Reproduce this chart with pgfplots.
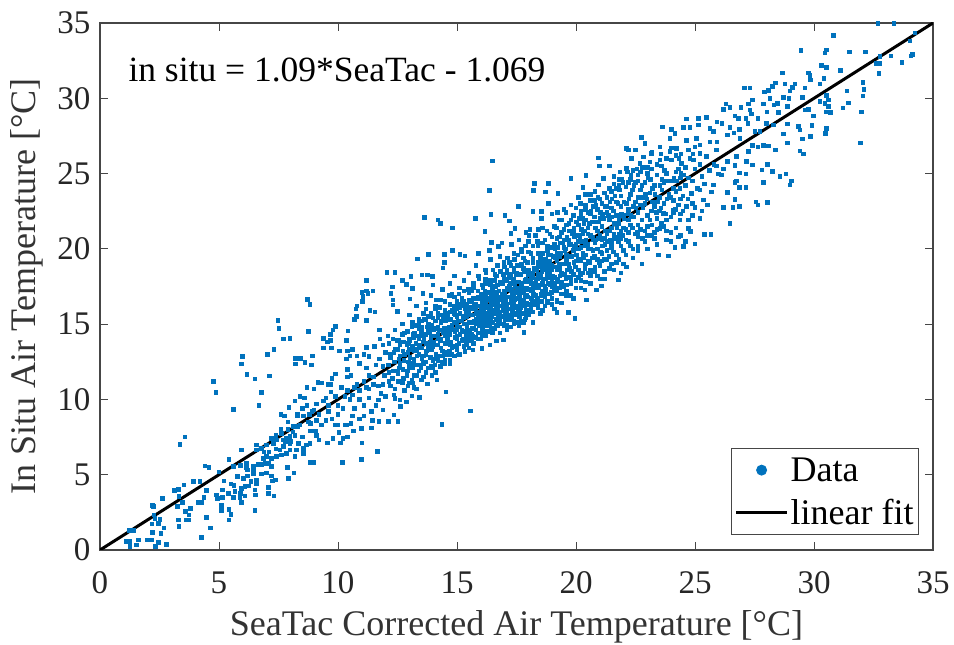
\documentclass[border=0pt]{standalone}
\usepackage{pgfplots}
\pgfplotsset{compat=1.18}
\usepackage{fontspec}
\setmainfont{Liberation Serif}
\definecolor{mblue}{RGB}{0,114,189}
\definecolor{axgray}{RGB}{70,70,70}
\begin{document}
\begin{tikzpicture}[x=1pt,y=1pt]
\path[use as bounding box] (-100pt,-95pt) rectangle (854pt,550pt);
\begin{axis}[
  at={(0pt,0pt)},anchor=south west,
  scale only axis,width=833pt,height=527pt,
  xmin=0,xmax=35,ymin=0,ymax=35,
  xtick={0,5,...,35},ytick={0,5,...,35},
  tick align=inside,major tick length=8pt,
  axis line style={axgray,line width=1.3pt},
  tick style={axgray,line width=0.9pt},
  ticklabel style={font=\fontsize{33}{33}\selectfont,text=black!85},
  /pgf/number format/assume math mode=true,
  xticklabel style={yshift=-18pt},
  yticklabel style={xshift=-6pt},
  xlabel={SeaTac Corrected Air Temperature [°C]},
  ylabel={In Situ Air Temperature [°C]},
  label style={font=\fontsize{36}{36}\selectfont,text=black!80},
  ylabel style={at={(axis description cs:-0.0876,0.5)},anchor=center},
  xlabel style={at={(axis description cs:0.5,-0.146)},anchor=center},
  legend style={at={(rel axis cs:0.9832,0.0285)},anchor=south east,draw=axgray,line width=0.9pt,
    font=\fontsize{36}{36}\selectfont,inner xsep=3pt,inner ysep=7pt,row sep=12pt},
  legend cell align=left,
]
\addplot[only marks,mark=square*,mark size=1.75pt,color=mblue,mark options={draw=mblue,fill=mblue,line width=0pt},
 forget plot] coordinates {
(1.09,0.55)(1.26,0.55)(1.61,0.66)(1.54,0.33)(1.26,0.22)(1.99,0.66)(2.17,0.66)(2.45,0.49)(2.34,0.22)(2.79,0.38)
(1.40,1.28)(1.23,1.28)(2.20,1.17)(2.56,1.11)(2.68,1.46)(2.18,1.73)(2.31,2.10)(2.52,2.04)(2.45,1.77)(2.24,2.88)(2.27,2.32)(2.62,3.41)(2.21,2.97)
(3.14,3.94)(3.29,4.03)(3.53,4.32)(3.32,3.54)(3.46,3.14)(3.25,2.88)(3.59,2.55)(3.75,2.32)(3.81,2.77)(3.29,1.99)(3.61,1.99)(3.75,1.99)(3.31,1.55)
(4.48,2.17)(4.65,1.46)(4.26,0.84)(3.92,4.56)(4.20,4.56)(4.48,3.94)(4.37,3.50)(4.13,3.17)(4.27,3.17)
(5.11,2.94)(5.11,2.61)(5.43,2.70)(5.50,2.35)(5.43,1.99)(4.90,3.65)(4.93,3.43)(5.15,3.98)(5.15,3.50)(5.22,4.58)(5.50,4.38)(5.63,4.29)(5.39,3.76)(5.67,3.87)(5.60,3.50)
(5.91,3.76)(5.88,3.50)(5.95,3.14)(5.95,4.09)(6.09,4.21)(6.27,4.25)(6.02,4.76)(6.19,4.91)(5.78,4.87)(6.34,4.54)(6.44,5.09)(6.58,4.65)(6.58,4.38)(6.51,3.98)(6.54,3.65)(6.51,2.61)
(7.07,4.16)(7.07,3.76)(7.31,3.59)(7.25,4.58)(7.38,4.65)(6.79,5.05)(7.00,5.13)(7.21,5.53)(6.16,5.75)(6.44,5.53)(6.65,5.69)(6.79,5.69)(6.93,5.75)(7.07,5.75)(6.44,5.31)(6.16,5.49)
(4.41,5.58)(4.58,5.47)(5.00,5.18)(5.43,6.02)(5.95,6.64)(5.60,5.53)(6.58,6.97)(6.58,6.64)(6.79,6.75)(7.00,6.97)(7.21,7.41)(7.28,7.08)(7.42,7.30)(7.63,7.75)(7.68,7.30)(7.84,7.41)(7.98,7.53)(7.98,7.08)(7.70,6.86)(7.56,6.64)(7.63,6.31)(7.98,6.64)(7.84,6.42)(7.42,6.20)(7.21,6.09)(7.00,6.20)(6.86,6.09)
(8.33,7.08)(8.26,6.64)(8.54,6.75)(8.19,6.20)(8.54,6.42)(8.82,7.08)(8.68,6.97)(7.87,5.49)(8.15,5.13)(7.93,4.76)(8.82,5.82)(8.99,5.82)(10.18,5.82)(10.98,6.02)(11.65,6.55)
(3.36,7.00)(3.57,7.51)(5.60,9.34)(4.76,11.2)(4.87,10.47)(5.95,12.35)(5.99,12.84)(6.18,11.64)(6.51,11.37)(6.79,10.47)(6.68,9.59)(7.13,11.55)(7.03,12.97)(7.31,13.32)(7.48,15.23)(7.53,14.7)(7.70,14.0)(7.98,14.05)
(8.71,16.65)(8.82,16.29)(8.77,14.52)(8.21,12.71)(8.43,12.71)(8.21,12.35)(8.61,12.44)(8.88,12.27)(8.93,12.9)(9.17,11.11)(9.40,13.41)(9.40,14.03)(9.56,13.8)(9.68,13.9)(9.68,14.3)(9.79,14.6)(9.90,14.83)(9.73,13.41)(10.35,13.9)(10.07,13.2)(10.35,12.7)
(10.41,14.56)(10.76,16.02)(11.03,16.5)(11.48,17.2)(11.2,17.9)(11.0,17.1)(10.8,16.2)(11.2,17.2)(11.05,16.7)(10.77,15.5)(11.34,15.9)(11.2,15.25)(10.7,15.3)(11.55,15.8)(11.75,14.6)(11.76,14.0)(10.4,13.2)(10.6,13.3)(11.2,13.45)(11.54,13.5)(11.9,13.6)(10.5,12.9)(10.8,12.9)(11.1,13.0)(11.3,12.85)(11.75,12.7)(12.0,13.1)
(10.55,11.6)(10.4,11.5)(9.7,11.0)(9.6,11.0)(9.3,11.1)(8.7,10.8)(9.0,10.7)(8.2,9.9)(7.95,9.45)(9.75,11.4)(8.4,10.2)(8.6,10.1)(7.6,9.0)(7.75,8.9)(8.3,9.0)(9.5,10.1)(9.9,10.2)(10.3,10.2)(10.6,10.3)(10.9,10.0)(11.3,10.1)(11.7,9.95)(12.0,10.2)(12.2,10.9)(11.9,11.0)(11.5,11.0)(11.2,10.8)(10.8,11.0)(10.4,10.6)(10.15,10.8)(9.7,10.5)(8.3,8.9)(8.75,8.5)(8.85,8.4)(8.4,8.3)(8.55,8.9)(9.1,8.6)(9.3,8.3)(9.5,8.6)(9.75,8.7)(9.9,8.3)(10.0,9.0)(10.3,8.3)(10.55,8.4)(10.65,7.9)(9.8,7.4)(10.05,7.8)(10.2,7.4)(10.4,7.5)(11.0,7.1)(11.9,9.3)(9.0,9.3)(9.1,9.7)(8.9,9.2)(8.7,9.6)(8.5,9.4)(9.4,9.9)(9.6,9.2)(10.7,9.4)(11.1,9.6)(11.4,9.2)(8.1,8.2)(7.9,8.0)(8.1,7.85)(7.6,8.0)(8.2,7.6)(8.85,7.9)(9.1,7.6)(9.2,7.3)(9.55,7.1)(9.05,7.9)
(13.64,22.09)(14.2,21.9)(14.3,21.67)(14.82,21.4)(16.18,21.14)(13.35,19.34)(13.81,19.61)(14.48,19.61)(14.48,19.08)(14.42,18.73)(14.82,19.88)(15.12,19.61)(15.34,19.52)(15.9,19.7)(16.36,19.88)(16.74,20.14)(16.46,20.41)(17.27,21.03)(17.44,21.36)(18.07,21.29)(18.56,22.02)
(12.06,18.44)(12.39,18.44)(13.07,18.17)(13.53,18.26)(13.75,18.26)(13.98,18.17)(12.7,17.91)(12.88,17.64)(12.28,17.46)(12.23,17.04)(11.27,17.02)(11.04,16.84)(13.12,17.38)(13.02,16.67)(13.58,17.02)(12.32,16.6)(12.32,16.27)(12.49,15.85)
(16.5,25.85)(16.36,23.88)(16.43,22.29)(15.78,22.02)(17.02,22.2)(17.2,21.85)(17.59,22.8)(18.2,22.47)(18.56,22.47)(18.26,24.35)(18.84,24.35)(18.21,23.88)(18.72,23.79)(18.84,23.02)(19.24,23.68)(19.8,24.68)(20.3,24.08)(20.42,24.88)(20.94,26.03)(20.98,25.5)(21.4,25.5)(21.15,24.68)(21.6,24.8)(20.94,24.24)(21.85,25.12)(22.13,25.34)(22.2,26.56)
(14.37,8.34)(15.56,9.23)(14.54,10.49)(13.94,11.58)(14.15,11.29)(13.75,11.02)(13.42,10.14)(13.1,10.23)(12.6,9.96)(12.63,9.52)(12.88,9.83)(12.39,10.07)(12.53,8.52)(12.12,8.52)(11.72,8.52)(11.45,8.59)(10.99,8.08)(10.36,8.3)(10.01,8.3)(12.35,8.96)
(19.96,15.38)(19.2,15.76)(19.68,15.76)(17.81,14.43)(16.95,13.94)(16.67,13.88)(16.39,13.61)(16.04,13.39)(15.68,13.28)(15.34,13.17)(15.06,12.95)(14.7,12.62)(14.5,12.4)(20.45,16.6)(20.38,17.26)(20.87,17.26)(21.08,17.53)(21.78,17.93)(22.13,18.81)
(32.68,34.97)(33.36,34.97)(30.81,34.17)(29.45,33.18)(30.53,33.2)(30.46,33.0)(31.5,33.09)(32.17,33.09)(34.25,34.35)(34.03,33.82)(32.77,32.76)(33.24,32.82)(34.14,32.91)(34.07,32.82)(33.7,32.38)(32.63,32.32)(32.77,32.32)(32.74,31.65)(30.32,32.18)(30.53,32.03)(31.11,31.85)(28.67,31.67)(29.76,31.67)(29.83,31.5)(29.86,31.2)(30.42,31.32)(30.25,30.94)(32.06,31.05)(32.11,30.59)(32.06,30.15)(31.38,30.5)(31.44,29.7)(31.22,29.35)(32.0,29.08)(31.95,27.03)
(30.53,30.17)(30.6,29.88)(30.25,29.77)(30.46,29.66)(30.6,29.44)(30.53,29.1)(30.7,29.06)(29.97,28.82)(29.76,29.26)(29.62,29.22)(29.91,28.18)(30.53,28.0)(30.48,27.67)(29.86,27.45)(29.52,27.29)(29.34,28.11)(29.41,27.89)(28.89,27.03)(28.72,27.62)(28.89,28.29)(29.41,26.49)(29.56,26.3)(28.39,26.56)(28.08,26.83)(27.87,26.85)(27.65,26.76)(27.42,26.85)
(27.09,30.68)(27.31,30.68)(27.93,30.43)(28.08,30.52)(28.26,30.79)(28.39,31.03)(28.78,30.94)(29.2,30.94)(29.1,30.72)(28.99,30.5)(29.62,30.68)(29.51,30.06)(28.71,30.06)(28.95,29.97)(28.15,29.97)(27.87,29.61)(28.32,29.55)(28.46,29.66)(28.89,29.44)(28.5,29.04)(28.03,29.1)(27.42,29.88)(27.25,29.61)(26.93,29.39)(26.3,29.61)(26.47,29.39)(26.19,29.26)(27.31,29.22)(27.38,28.95)(27.14,28.66)(27.65,28.66)(26.68,28.82)(26.82,28.66)(25.92,28.44)(26.13,28.33)(27.22,28.33)(28.01,28.33)(28.29,28.22)(26.47,28.07)(26.86,27.93)(27.52,27.78)(27.73,27.78)
(25.49,28.73)(25.14,28.66)(25.14,28.22)(24.65,28.62)(24.51,28.07)(24.79,28.07)(23.64,28.09)(24.02,27.93)(24.16,27.67)(23.95,27.33)(24.65,27.18)(25.07,27.33)(25.63,28.0)(25.77,27.78)(26.36,27.55)(26.64,27.71)(26.89,27.33)(25.92,27.11)(25.63,27.11)(25.21,26.89)(25.0,26.78)(22.75,27.38)(22.9,27.0)(22.5,26.56)(22.13,26.67)(23.53,26.78)(23.18,26.34)(23.95,26.45)(24.23,26.67)(24.72,26.56)(25.21,26.34)(25.91,26.56)(22.34,26.0)(22.69,25.67)(23.11,25.78)(23.53,25.9)(24.02,25.9)(24.44,25.67)(24.93,25.9)(25.49,26.12)
(26.75,26.12)(27.24,26.45)(27.17,25.79)(26.36,25.79)(26.68,25.52)(27.42,25.56)(28.04,25.59)(27.82,25.23)(28.26,25.14)(28.57,24.79)(28.82,24.97)(29.06,24.52)(29.0,24.24)(27.87,24.41)(27.14,24.97)(26.86,25.05)(25.98,24.97)(26.12,24.9)(26.75,24.52)(26.68,24.41)(26.86,24.08)(27.14,24.08)(26.36,23.73)(26.68,23.28)(27.56,23.11)(27.65,22.91)(28.04,23.08)(26.86,22.82)(26.6,22.75)(26.19,22.75)(26.47,21.67)(25.52,22.91)(25.0,22.75)(25.22,22.02)(25.39,20.96)(25.67,20.96)(25.0,20.32)(24.61,20.5)(24.51,20.14)(24.16,20.08)(23.88,19.52)(23.46,19.59)(22.78,18.99)(24.3,20.8)(24.0,21.09)(24.72,21.36)(24.82,21.14)(24.72,21.91)(24.37,21.91)(25.77,24.24)(25.7,23.79)(25.35,23.24)(25.21,23.9)(24.86,23.68)(24.65,22.8)(24.09,22.58)(23.67,22.35)(23.53,21.36)
(24.4,24.7)(24.6,24.2)(24.9,24.5)(25.3,24.8)(25.6,25.2)(24.2,25.1)(23.8,25.0)(23.4,24.9)(23.0,25.0)(22.6,24.9)(22.3,24.6)(22.9,24.4)(23.3,24.2)(23.7,24.4)(24.1,24.0)(23.9,23.6)(23.5,23.4)(23.1,23.7)(22.7,23.9)(22.3,23.6)(22.5,23.1)(22.9,23.0)(23.3,22.8)(23.7,23.0)(24.1,23.2)(24.4,23.3)(22.2,22.6)(22.6,22.4)(23.0,22.2)(23.4,22.0)(23.8,21.9)(22.2,21.9)(22.6,21.6)(23.0,21.5)(23.3,21.1)(22.2,21.1)(22.6,20.8)(22.9,20.5)(22.3,20.2)(22.6,19.9)(22.1,19.6)(23.0,20.0)(23.4,20.3)(22.0,19.0)(22.4,19.4)(21.9,18.4)
(21.8,24.2)(21.5,23.8)(21.9,23.5)(21.3,23.4)(21.7,23.1)(21.1,23.0)(21.5,22.7)(21.9,22.8)(20.9,22.6)(21.3,22.4)(21.7,22.2)(22.0,22.2)(20.6,23.6)(20.8,23.2)(20.4,22.9)(20.1,23.4)(19.8,22.9)(20.2,22.5)(20.6,22.3)(21.0,22.0)(21.4,21.9)(21.8,21.7)(19.5,22.6)(19.9,22.2)(20.3,22.0)(20.7,21.8)(21.1,21.5)(21.5,21.4)(21.9,21.2)(19.3,21.9)(19.7,21.7)(20.1,21.6)(20.5,21.4)(20.9,21.2)(21.3,21.0)(21.7,20.8)(22.1,20.6)(19.0,22.3)(19.1,21.5)(19.5,21.3)(19.9,21.1)(20.3,21.0)(20.7,20.8)(21.1,20.6)(21.5,20.4)(21.9,20.2)(18.6,21.4)(18.9,21.0)(19.3,20.8)(19.7,20.6)(20.1,20.5)(20.5,20.3)(20.9,20.0)(21.3,19.9)(21.7,19.6)(21.5,19.0)(21.1,19.2)(20.7,19.4)(20.3,19.7)(19.9,19.9)(19.5,20.1)(19.1,20.3)(18.7,20.6)(18.3,20.9)(17.9,21.1)(18.0,20.5)(18.4,20.2)(18.8,19.9)(19.2,19.7)(19.6,19.4)(20.0,19.2)(20.4,19.0)(20.8,18.8)(21.2,18.5)(20.9,18.2)(20.5,18.4)(20.1,18.6)(19.7,18.8)(19.3,19.0)(18.9,19.2)(18.5,19.4)(18.1,19.7)(17.7,20.0)(17.3,20.3)(17.6,20.6)(16.9,20.4)(17.4,19.7)(17.8,19.4)(18.2,19.1)(18.6,18.8)(19.0,18.6)(19.4,18.4)(19.8,18.1)(20.2,17.9)(20.6,17.7)(20.0,17.4)(19.6,17.6)(19.2,17.8)(18.8,18.1)(18.4,18.3)(18.0,18.6)(17.6,18.9)(17.2,19.1)(16.8,19.5)(16.4,19.3)(16.7,18.9)(17.1,18.6)(17.5,18.3)(17.9,18.0)(18.3,17.7)(18.7,17.5)(19.1,17.2)(19.5,17.0)(19.9,16.7)(19.4,16.4)(19.0,16.7)(18.6,16.9)(18.2,17.1)(17.8,17.4)(17.4,17.7)(17.0,18.0)(16.6,18.3)(16.2,18.6)(15.8,18.9)(15.5,18.4)(15.9,18.2)(16.3,17.9)(16.7,17.6)(17.1,17.3)(17.5,17.1)(17.9,16.8)(18.3,16.5)(18.7,16.2)(19.1,16.0)(18.5,15.7)(18.1,16.0)(17.7,16.3)(17.3,16.6)(16.9,16.9)(16.5,17.2)(16.1,17.4)(15.7,17.7)(15.3,17.9)(14.9,18.2)(14.7,17.7)(15.1,17.4)(15.5,17.1)(15.9,16.8)(16.3,16.6)(16.7,16.3)(17.1,16.0)(17.5,15.7)(17.9,15.4)(18.2,15.1)(17.6,14.9)(17.2,15.3)(16.8,15.6)(16.4,15.9)(16.0,16.2)(15.6,16.5)(15.2,16.7)(14.8,17.0)(14.4,17.3)(14.0,17.6)(13.9,16.9)(14.3,16.6)(14.7,16.3)(15.1,16.1)(15.5,15.8)(15.9,15.5)(16.3,15.2)(16.7,14.9)(17.1,14.6)(16.5,14.4)(16.1,14.8)(15.7,15.1)(15.3,15.4)(14.9,15.7)(14.5,15.9)(14.1,16.2)(13.7,16.4)(13.3,16.2)(13.6,15.7)(14.0,15.4)(14.4,15.2)(14.8,14.9)(15.2,14.6)(15.6,14.3)(16.0,14.0)(15.4,13.8)(15.0,14.2)(14.6,14.5)(14.2,14.8)(13.8,15.0)(13.4,15.3)(13.0,15.6)(12.7,15.0)(13.1,14.8)(13.5,14.5)(13.9,14.2)(14.3,13.9)(14.7,13.6)(15.0,13.3)(14.4,13.2)(14.0,13.5)(13.6,13.8)(13.2,14.1)(12.8,14.4)(12.4,14.6)(12.1,14.2)(12.5,13.9)(12.9,13.6)(13.3,13.3)(13.7,13.0)(14.1,12.7)(13.6,12.4)(13.2,12.7)(12.8,13.0)(12.4,13.3)(12.2,12.8)(12.6,12.4)(13.0,12.2)(13.4,11.9)(12.9,11.6)(12.5,11.9)(12.3,11.4)(12.7,11.1)(13.1,11.3)(12.4,10.7)(12.8,10.6)(13.2,10.8)(13.6,11.5)(14.0,12.1)(14.4,12.5)(14.8,13.0)
(15.0,15.0)(15.4,15.0)(15.8,15.3)(16.2,15.6)(16.6,15.8)(17.0,16.1)(17.4,16.4)(17.8,16.6)(18.2,16.9)(18.6,17.2)(19.0,17.5)(19.4,17.8)(19.8,18.0)(20.2,18.3)(20.6,18.6)(21.0,18.9)(16.1,16.4)(16.5,16.7)(16.9,17.0)(17.3,17.3)(17.7,17.6)(18.1,17.9)(18.5,18.1)(18.9,18.4)(19.3,18.7)(19.7,19.0)(20.1,19.3)(15.2,16.2)(15.6,16.0)(16.0,15.9)(16.4,15.4)(16.8,15.3)(17.2,15.5)(17.6,15.6)(18.0,15.8)(18.4,16.1)(18.8,16.4)(19.2,16.6)(19.6,16.9)(16.2,14.5)(16.6,14.7)(17.0,14.9)(17.4,15.0)(17.8,15.1)(15.8,14.6)(15.4,14.4)(15.0,14.6)(14.6,14.0)(14.2,14.3)(13.8,14.5)(13.4,14.0)(13.0,13.3)(12.6,12.9)(13.4,13.0)(13.8,13.4)(14.2,13.6)(14.6,13.9)(15.0,14.0)(15.4,14.2)(12.6,13.6)(13.0,14.0)(13.4,14.7)(13.8,15.5)(14.2,15.7)(14.6,15.5)(15.0,15.5)(15.4,15.8)(15.8,16.0)(16.2,16.3)(16.6,16.5)(17.0,16.6)(17.4,16.9)(17.8,17.1)(18.2,17.4)(18.6,17.7)(19.0,17.9)(17.0,17.1)(17.2,17.5)(16.6,17.0)(16.2,16.9)(15.8,16.3)(15.4,16.3)(15.0,16.5)(16.0,17.0)(15.6,17.2)(16.4,17.6)(16.8,17.8)(17.2,18.1)(17.6,18.3)(18.0,18.3)(18.4,18.8)(18.8,18.7)(19.2,19.2)(19.6,19.6)(20.0,20.0)(20.4,20.2)(20.8,20.4)(21.2,20.7)(21.6,21.0)(22.0,21.4)(18.2,18.4)(17.8,18.7)(17.4,18.5)(17.0,18.8)(16.6,17.9)(16.2,18.0)
(22.1,24.1)(23.2,26.4)(24.8,26.0)(24.3,25.3)(23.6,25.5)(22.8,25.4)(22.4,25.2)(24.6,25.4)(25.0,25.3)(25.2,25.6)(25.8,25.6)(25.4,24.3)(25.9,25.5)(26.2,25.3)(25.1,24.0)(24.5,23.5)(24.2,23.8)(23.8,24.5)(25.3,22.5)(24.9,23.0)(24.4,22.3)(24.0,22.1)(23.8,20.6)(23.2,20.9)
(12.15,11.2)(12.15,11.8)(12.12,12.3)(12.18,13.0)(12.15,13.7)(12.35,10.3)(12.33,11.9)(12.37,12.5)(12.35,13.1)(12.32,14.0)
(12.55,11.2)(12.53,11.7)(12.58,12.1)(12.56,12.7)(12.52,13.3)(12.55,13.9)(12.75,11.4)(12.73,12.0)(12.77,12.6)(12.74,13.2)(12.76,13.8)(12.72,14.3)
(12.95,10.9)(12.93,11.9)(12.97,12.5)(12.94,13.1)(12.96,13.7)(12.92,14.5)(13.15,11.1)(13.12,12.1)(13.17,12.4)(13.14,13.5)(13.16,14.3)(13.12,15.1)
(13.3,10.7)(13.32,11.6)(13.28,12.3)(13.31,12.9)(13.27,13.7)(13.33,14.2)(13.3,14.9)(13.5,11.3)(13.48,12.1)(13.53,12.7)(13.51,13.4)(13.47,14.2)(13.52,14.8)(13.5,15.2)
(13.7,11.8)(13.68,12.5)(13.72,13.2)(13.71,13.7)(13.67,14.3)(13.73,14.8)(13.7,15.3)(13.69,16.0)(13.9,12.2)(13.88,12.8)(13.92,13.3)(13.91,13.9)(13.87,14.4)(13.93,14.9)(13.9,15.7)
(14.1,11.8)(14.08,12.3)(14.12,13.0)(14.11,13.6)(14.07,14.2)(14.13,14.7)(14.1,15.2)(14.09,16.0)(14.12,16.6)(14.3,12.2)(14.28,12.9)(14.32,13.4)(14.31,14.0)(14.27,14.6)(14.33,15.1)(14.3,15.6)(14.29,16.1)
(14.5,12.6)(14.48,13.1)(14.52,13.7)(14.51,14.2)(14.47,14.7)(14.53,15.2)(14.5,15.7)(14.49,16.5)(14.7,12.4)(14.68,13.2)(14.72,13.8)(14.71,14.3)(14.67,14.8)(14.73,15.3)(14.7,15.8)(14.69,16.9)
(14.9,12.9)(14.88,13.5)(14.92,14.1)(14.91,14.5)(14.87,15.1)(14.93,15.6)(14.9,16.2)(14.89,16.8)(15.1,13.0)(15.08,13.7)(15.12,14.3)(15.11,14.8)(15.07,15.2)(15.13,15.7)(15.1,16.3)(15.09,17.0)
(15.3,13.5)(15.28,14.0)(15.32,14.5)(15.31,15.0)(15.27,15.5)(15.33,16.0)(15.3,16.5)(15.29,17.2)(15.5,13.4)(15.48,14.1)(15.52,14.6)(15.51,15.1)(15.47,15.6)(15.53,16.1)(15.5,16.6)(15.49,17.3)
(15.7,13.7)(15.68,14.2)(15.72,14.7)(15.71,15.2)(15.67,15.6)(15.73,16.2)(15.7,16.7)(15.69,17.4)(15.9,14.0)(15.88,14.4)(15.92,14.9)(15.91,15.3)(15.87,15.8)(15.93,16.2)(15.9,16.7)(15.89,17.2)(15.92,18.0)
(16.05,14.2)(16.07,14.7)(16.03,15.1)(16.06,15.5)(16.04,16.0)(16.08,16.5)(16.02,17.0)(16.05,17.6)(16.2,14.2)(16.22,14.9)(16.18,15.2)(16.21,15.7)(16.19,16.1)(16.23,16.6)(16.17,17.2)(16.2,17.7)(16.22,18.4)
(16.35,14.5)(16.37,14.9)(16.33,15.4)(16.36,15.8)(16.34,16.2)(16.38,16.7)(16.32,17.1)(16.35,17.8)(16.5,14.7)(16.52,15.1)(16.48,15.5)(16.51,15.9)(16.49,16.3)(16.53,16.8)(16.47,17.3)(16.5,17.9)(16.52,18.6)
(16.65,14.9)(16.67,15.3)(16.63,15.7)(16.66,16.1)(16.64,16.5)(16.68,17.1)(16.62,17.5)(16.65,18.2)(16.8,14.4)(16.82,15.0)(16.78,15.4)(16.81,15.8)(16.79,16.2)(16.83,16.6)(16.77,17.2)(16.8,17.7)(16.82,18.5)
(16.95,15.0)(16.97,15.5)(16.93,15.9)(16.96,16.3)(16.94,16.7)(16.98,17.2)(16.92,17.7)(16.95,18.3)(16.97,19.1)(17.1,14.9)(17.12,15.4)(17.08,15.8)(17.11,16.3)(17.09,16.8)(17.13,17.4)(17.07,17.9)(17.1,18.4)(17.12,19.4)
(17.25,14.8)(17.27,15.6)(17.23,16.0)(17.26,16.4)(17.24,16.8)(17.28,17.2)(17.22,17.7)(17.25,18.3)(17.27,18.9)(17.4,15.2)(17.42,15.6)(17.38,16.1)(17.41,16.6)(17.39,17.1)(17.43,17.5)(17.37,18.0)(17.4,18.7)(17.42,19.3)
(17.55,15.1)(17.57,15.9)(17.53,16.2)(17.56,16.7)(17.54,17.2)(17.58,17.8)(17.52,18.4)(17.55,18.9)(17.57,19.6)(17.7,15.2)(17.72,15.7)(17.68,16.1)(17.71,16.6)(17.69,17.1)(17.73,17.7)(17.67,18.3)(17.7,19.0)(17.72,19.8)
(17.85,15.3)(17.87,15.7)(17.83,16.2)(17.86,16.8)(17.84,17.3)(17.88,17.9)(17.82,18.5)(17.85,19.2)(17.87,20.2)(18.0,15.6)(18.02,16.3)(17.98,16.8)(18.01,17.3)(17.99,17.9)(18.03,18.5)(17.97,19.1)(18.0,19.8)(18.02,20.9)
(18.2,15.8)(18.18,16.4)(18.22,17.0)(18.21,17.6)(18.17,18.2)(18.23,18.7)(18.2,19.4)(18.19,20.2)(18.4,16.2)(18.38,16.7)(18.42,17.4)(18.41,18.0)(18.37,18.6)(18.43,19.1)(18.4,19.7)(18.39,20.5)(18.42,21.3)
(18.6,15.9)(18.58,16.5)(18.62,17.1)(18.61,17.9)(18.57,18.5)(18.63,19.1)(18.6,19.7)(18.59,20.4)(18.8,16.5)(18.78,17.0)(18.82,17.7)(18.81,18.3)(18.77,19.0)(18.83,19.6)(18.8,20.2)(18.79,21.2)
(19.0,16.3)(18.98,17.1)(19.02,17.7)(19.01,18.2)(18.97,18.9)(19.03,19.5)(19.0,20.1)(18.99,20.8)(19.2,16.5)(19.18,17.2)(19.22,18.0)(19.21,18.6)(19.17,19.4)(19.23,20.1)(19.2,20.7)(19.19,21.4)(19.22,22.4)
(19.4,17.0)(19.38,17.6)(19.42,18.3)(19.41,19.0)(19.37,19.7)(19.43,20.4)(19.4,21.1)(19.39,21.9)(19.6,17.2)(19.58,18.0)(19.62,18.6)(19.61,19.3)(19.57,20.0)(19.63,20.8)(19.6,21.6)(19.59,22.4)
(19.8,16.9)(19.78,17.7)(19.82,18.5)(19.81,19.5)(19.77,20.3)(19.83,21.0)(19.8,21.9)(20.0,17.9)(19.98,18.8)(20.02,19.6)(20.01,20.3)(19.97,20.9)(20.03,21.8)(20.0,22.7)
(20.2,17.4)(20.18,18.4)(20.22,19.2)(20.21,20.1)(20.17,20.8)(20.23,21.3)(20.2,22.2)(20.19,23.0)(20.4,17.8)(20.38,18.7)(20.42,19.6)(20.41,20.6)(20.37,21.2)(20.43,21.9)(20.4,22.6)(20.39,23.6)
(20.6,18.2)(20.58,19.1)(20.62,20.0)(20.61,20.9)(20.57,21.7)(20.63,22.5)(20.6,23.2)(20.8,18.5)(20.78,19.5)(20.82,20.6)(20.81,21.4)(20.77,22.1)(20.83,22.9)(20.8,23.8)
(21.0,18.0)(20.98,19.1)(21.02,19.8)(21.01,20.9)(20.97,21.8)(21.03,22.4)(21.0,23.3)(21.2,18.0)(21.18,19.3)(21.22,20.3)(21.21,21.2)(21.17,22.0)(21.23,22.8)(21.2,23.7)
(21.4,18.7)(21.38,19.5)(21.42,20.6)(21.41,21.2)(21.37,22.2)(21.43,23.1)(21.4,24.0)(21.6,18.6)(21.58,19.8)(21.62,20.7)(21.61,21.7)(21.57,22.5)(21.63,23.5)(21.6,24.3)
(21.8,19.3)(21.78,20.5)(21.82,21.0)(21.81,22.0)(21.77,23.0)(21.83,23.9)(21.8,24.6)(22.0,19.9)(21.98,20.9)(22.02,22.0)(22.01,23.1)(21.97,24.4)(22.2,20.5)(22.18,22.3)(22.22,23.3)(22.21,24.4)(22.17,25.1)
(22.4,20.0)(22.38,21.4)(22.42,22.1)(22.41,22.8)(22.37,23.9)(22.43,24.2)(22.6,20.2)(22.58,21.1)(22.62,23.4)(22.61,24.5)(22.57,25.3)(22.8,20.7)(22.78,21.9)(22.82,22.7)(22.81,23.4)(22.77,24.2)(22.83,26.1)
(23.0,20.9)(22.98,23.3)(23.02,24.7)(23.01,25.4)(23.2,21.6)(23.18,22.5)(23.22,23.1)(23.21,24.0)(23.17,25.3)(23.4,21.3)(23.38,22.4)(23.42,23.1)(23.41,25.6)(23.6,21.7)(23.58,22.7)(23.62,23.9)(23.61,24.6)(23.57,26.3)
(23.8,21.2)(23.78,22.3)(23.82,23.3)(23.81,26.0)(24.0,20.5)(23.98,23.4)(24.02,24.5)(24.01,26.7)(24.2,21.4)(24.18,22.6)(24.22,24.5)(24.21,26.2)(24.4,20.9)(24.38,24.0)(24.42,25.0)(24.41,26.3)
(16.1,14.5)(16.13,15.0)(16.12,15.4)(16.11,15.8)(16.13,16.2)(16.12,16.7)(16.42,14.7)(16.43,15.2)(16.41,15.6)(16.42,16.0)(16.44,16.4)(16.43,16.9)(16.72,15.1)(16.74,15.5)(16.73,15.9)(16.72,16.3)(16.74,16.8)(17.02,15.3)(17.03,15.7)(17.04,16.2)(17.03,16.6)(17.02,17.0)(17.32,15.4)(17.33,15.9)(17.34,16.3)(17.32,16.7)(17.33,17.1)(17.62,15.5)(17.63,16.0)(17.64,16.4)(17.62,16.9)(17.63,17.4)(17.93,15.9)(17.92,16.4)(17.94,16.9)(17.93,17.4)(17.92,17.8)(18.1,16.2)(18.12,16.7)(18.11,17.2)(18.13,17.7)(18.12,18.1)(18.3,16.3)(18.32,16.9)(18.31,17.4)(18.33,18.0)(18.32,18.6)(18.5,16.5)(18.52,17.0)(18.51,17.6)(18.53,18.2)(18.52,18.8)(18.7,16.8)(18.72,17.3)(18.71,18.0)(18.73,18.6)(18.72,19.3)(18.9,17.0)(18.92,17.6)(18.91,18.2)(18.93,18.9)(18.92,19.6)(19.1,17.5)(19.12,18.1)(19.11,18.8)(19.13,19.4)(19.12,20.0)(19.3,17.4)(19.32,18.2)(19.31,18.9)(19.33,19.5)(19.32,20.4)(19.5,17.5)(19.52,18.3)(19.51,19.0)(19.53,19.9)(19.52,20.6)(19.7,18.1)(19.72,18.7)(19.71,19.5)(19.73,20.3)(19.72,21.2)(19.9,18.3)(19.92,19.1)(19.91,20.2)(19.93,20.8)(19.92,21.4)(20.1,18.1)(20.12,19.2)(20.11,20.0)(20.13,20.9)(20.12,22.0)(20.3,18.4)(20.32,19.4)(20.31,20.5)(20.33,21.7)(20.5,19.2)(20.52,20.0)(20.51,21.0)(20.53,22.4)(20.7,18.5)(20.72,19.9)(20.71,20.6)(20.73,22.8)(20.9,19.3)(20.92,20.7)(20.91,21.8)(20.93,23.4)
(21.1,19.7)(21.12,20.2)(21.11,22.3)(21.3,19.3)(21.32,20.5)(21.31,22.8)(21.5,20.1)(21.52,22.1)(21.51,23.3)(21.7,19.1)(21.72,21.4)(21.71,24.0)(21.9,20.7)(21.92,22.3)(21.91,24.6)(22.1,21.3)(22.12,23.0)(22.3,21.6)(22.32,22.2)(22.31,24.9)(22.5,21.0)(22.52,22.7)(22.51,24.4)(22.7,21.3)(22.72,22.9)(22.71,25.1)(22.9,21.2)(22.92,23.6)(23.1,21.9)(23.12,24.6)(23.3,20.7)(23.32,23.6)(23.5,22.5)(23.52,24.2)(23.7,21.5)(23.72,25.2)(24.1,22.4)(24.12,24.7)(24.3,22.9)(24.32,26.0)(24.5,22.5)(24.52,24.9)(24.7,23.3)(24.72,24.7)(24.9,22.2)(24.92,26.3)
(13.0,11.1)(13.02,12.8)(13.01,13.9)(13.2,11.6)(13.22,13.2)(13.21,14.4)(13.4,12.3)(13.42,13.6)(13.41,15.0)(13.6,12.9)(13.62,14.1)(13.61,15.3)(13.8,12.1)(13.82,13.6)(13.81,14.6)(14.0,12.6)(14.02,13.8)(14.01,14.6)(14.2,12.6)(14.22,14.0)(14.21,15.4)(14.4,12.9)(14.42,14.4)(14.41,15.5)(14.6,13.0)(14.62,14.2)(14.61,15.7)(14.8,13.4)(14.82,14.6)(14.81,15.9)(15.0,13.6)(15.02,14.8)(15.01,16.0)(15.2,13.9)(15.22,15.2)(15.21,16.4)(15.4,13.6)(15.42,14.8)(15.41,15.5)(15.6,13.9)(15.62,14.7)(15.61,15.6)(15.8,14.1)(15.82,15.0)(15.81,15.7)(16.0,14.4)(16.02,15.3)(16.01,15.8)
(10.1,7.1)(10.6,8.9)(10.9,8.7)(11.1,8.9)(11.4,8.1)(11.6,9.6)(11.8,10.4)(11.95,11.6)(11.5,11.5)(11.1,11.2)(10.7,10.8)(11.3,10.7)(11.7,10.9)(11.9,12.2)(11.6,12.3)(11.2,12.1)(10.9,12.4)(10.4,12.0)(9.9,11.7)(8.0,7.2)(8.5,7.5)(7.4,6.7)(7.8,7.2)(6.9,6.5)(6.2,5.3)(7.2,4.9)(5.9,5.6)(6.1,3.6)(7.1,6.5)(7.4,7.6)(7.9,8.5)(8.3,8.2)(8.8,9.0)(9.2,9.0)(9.6,9.6)(10.0,9.6)(10.2,9.4)(10.5,10.0)(10.9,10.6)(11.3,11.6)
};
\addlegendimage{legend image code/.code={\fill[mblue] (25.5pt,0pt) circle (5pt);}}
\addlegendentry{Data}
\addplot[black,line width=3pt,legend image code/.code={\draw[black,line width=3pt] (0pt,0pt)--(51pt,0pt);}] coordinates {(0,0) (35,35)};
\addlegendentry{linear fit}
\node[anchor=west,font=\fontsize{35.5}{35.5}\selectfont,text=black] at (axis cs:1.05,31.9) {in situ = 1.09*SeaTac - 1.069};
\end{axis}
\end{tikzpicture}
\end{document}
